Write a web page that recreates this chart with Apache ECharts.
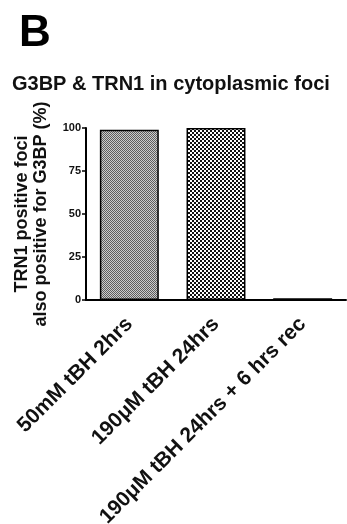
<!DOCTYPE html>
<html>
<head>
<meta charset="utf-8">
<style>
  html, body { margin: 0; padding: 0; background: #fff; }
  #chart { width: 347px; height: 524px; }
</style>
<script src="https://cdn.jsdelivr.net/npm/echarts@6/dist/echarts.min.js"></script>
</head>
<body>
<div id="chart"></div>
<script>
// data
const categories = ['50mM tBH 2hrs', '190\u03bcM tBH 24hrs', '190\u03bcM tBH 24hrs + 6 hrs rec']
const values = [99, 100, 1]
const yTicks = [0, 25, 50, 75, 100]

const FONT = '"Liberation Sans", Arial, sans-serif'

// small tile used as a repeated fill
function makeTile(size, cell, dark, light) {
  const c = document.createElement('canvas')
  c.width = size
  c.height = size
  const ctx = c.getContext('2d')
  ctx.fillStyle = light
  ctx.fillRect(0, 0, size, size)
  ctx.fillStyle = dark
  for (let y = 0; y < size; y += cell) {
    for (let x = 0; x < size; x += cell) {
      if (((x / cell) + (y / cell)) % 2 === 0) ctx.fillRect(x, y, cell, cell)
    }
  }
  return c
}

const fills = [
  {image: makeTile(2, 1, '#5e5e5e', '#cccccc'), repeat: 'repeat'},
  {image: makeTile(4, 2, '#111111', '#ffffff'), repeat: 'repeat'},
  '#111111'
]

const chart = echarts.init(document.getElementById('chart'))

const option = {
  animation: false,
  title: [
    {
      text: 'B',
      left: 14,
      top: 7,
      textStyle: {fontFamily: FONT, fontSize: 44, fontWeight: 'bold', color: '#000'}
    },
    {
      text: 'G3BP & TRN1 in cytoplasmic foci',
      left: 7,
      top: 69,
      textStyle: {fontFamily: FONT, fontSize: 20, fontWeight: 'bold', color: '#111'}
    }
  ],
  grid: {
    left: 86,
    right: 1,
    top: 128,
    bottom: 224,
    containLabel: false,
    outerBoundsMode: 'none'
  },
  xAxis: {
    type: 'category',
    data: categories,
    axisLine: {lineStyle: {color: '#000', width: 2}},
    axisTick: {alignWithLabel: true, length: 5, lineStyle: {color: '#000', width: 1.5}},
    axisLabel: {
      interval: 0,
      rotate: 45,
      margin: 21,
      fontFamily: FONT,
      fontSize: 21,
      fontWeight: 'bold',
      color: '#111'
    }
  },
  yAxis: {
    type: 'value',
    min: yTicks[0],
    max: yTicks[yTicks.length - 1],
    interval: 25,
    name: 'TRN1 positive foci\nalso positive for G3BP (%)',
    nameLocation: 'middle',
    nameGap: 35,
    nameRotate: 90,
    nameTextStyle: {
      fontFamily: FONT,
      fontSize: 18,
      fontWeight: 'bold',
      color: '#111',
      lineHeight: 19
    },
    splitLine: {show: false},
    axisLine: {show: true, lineStyle: {color: '#000', width: 2}},
    axisTick: {show: true, length: 4, lineStyle: {color: '#000', width: 1.5}},
    axisLabel: {
      margin: 5,
      fontFamily: FONT,
      fontSize: 11,
      fontWeight: 'bold',
      color: '#111'
    }
  },
  series: [
    {
      type: 'bar',
      barWidth: '68%',
      data: values.map((v, i) => ({
        value: v,
        itemStyle: {color: fills[i], borderColor: '#000', borderWidth: 1.5}
      }))
    }
  ]
}

chart.setOption(option)
</script>
</body>
</html>
